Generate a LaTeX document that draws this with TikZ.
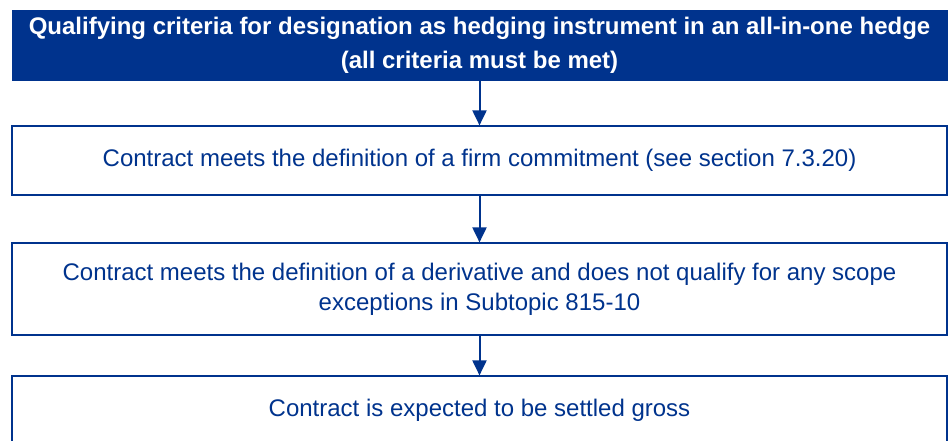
\documentclass[tikz,border=0pt]{standalone}
\usepackage{fontspec}
\setmainfont{Liberation Sans}
\definecolor{kpmgblue}{RGB}{0, 51, 141}
\usetikzlibrary{arrows.meta, positioning}

\begin{document}
\begin{tikzpicture}[x=1pt, y=-1pt,
    headbox/.style={draw=kpmgblue, fill=kpmgblue, text=white, line width=1pt,
        minimum width=935pt, align=center, inner sep=0pt,
        font=\fontsize{24}{34}\selectfont\bfseries},
    critbox/.style={draw=kpmgblue, line width=1.2pt, text=kpmgblue,
        minimum width=935pt, align=center, inner sep=0pt,
        font=\fontsize{24}{30}\selectfont},
    flow/.style={draw=kpmgblue, line width=2pt,
        -{Triangle[width=14pt, length=15pt]}}]
    \useasboundingbox (0,0) rectangle (948,440);

    % header
    \node[headbox, minimum height=70pt] (head) at (479.5,45)
        {Qualifying criteria for designation as hedging instrument in an all-in-one hedge\\
         (all criteria must be met)};

    % criteria boxes
    \node[critbox, minimum height=69pt] (firm) at (479.5,160.5)
        {Contract meets the definition of a firm commitment (see section 7.3.20)};
    \node[critbox, minimum height=92pt] (deriv) at (479.5,289)
        {Contract meets the definition of a derivative and does not qualify for any scope\\
         exceptions in Subtopic 815-10};
    \node[critbox, minimum height=69pt] (gross) at (479.5,410.5)
        {Contract is expected to be settled gross};

    % arrows
    \draw[flow] (head) -- (firm);
    \draw[flow] (firm) -- (deriv);
    \draw[flow] (deriv) -- (gross);
\end{tikzpicture}
\end{document}
